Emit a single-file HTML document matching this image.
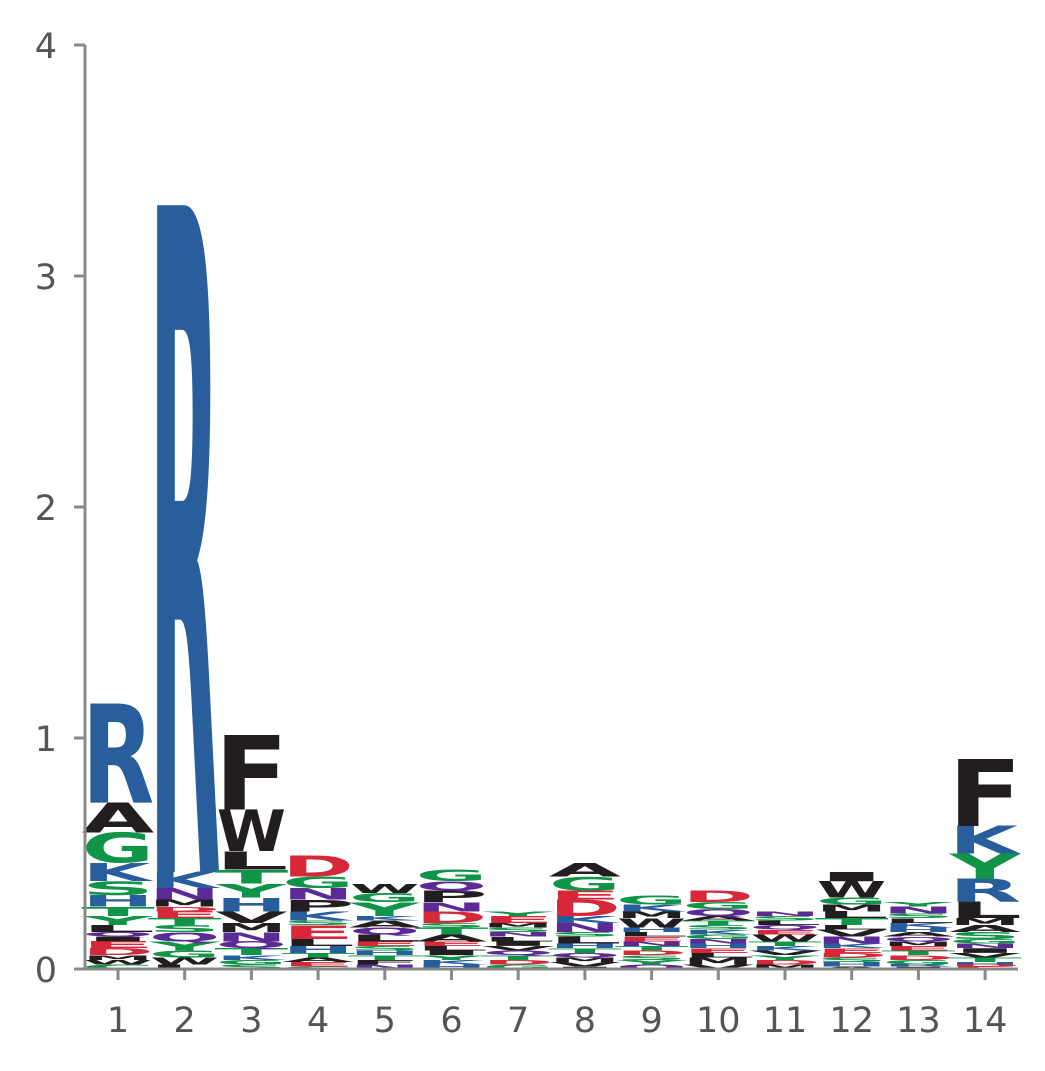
<!DOCTYPE html>
<html><head><meta charset="utf-8"><style>
html,body{margin:0;padding:0;background:#fff;}
svg{display:block;}
</style></head><body>
<svg id="chart" width="1045" height="1071" viewBox="0 0 1045 1071" xmlns="http://www.w3.org/2000/svg">
<g id="letters"></g>
<g id="axes"></g>
</svg>
<script>
const positions = [1,2,3,4,5,6,7,8,9,10,11,12,13,14];
const yTicks = [0,1,2,3,4];
// stacks bottom -> top: [letter, bits]
const stack1 = [["C",0.02],["W",0.02],["M",0.02],["D",0.03],["E",0.03],["I",0.02],["Q",0.02],["L",0.03],["Y",0.04],["T",0.04],["H",0.05],["S",0.06],["K",0.08],["G",0.13],["A",0.13],["R",0.43]];
const stack2 = [["L",0.02],["W",0.03],["G",0.03],["Y",0.04],["Q",0.04],["S",0.03],["T",0.03],["E",0.03],["D",0.02],["M",0.03],["N",0.05],["K",0.07],["R",2.89]];
const stack3 = [["S",0.02],["G",0.02],["K",0.02],["T",0.03],["Q",0.03],["N",0.04],["M",0.04],["V",0.05],["H",0.06],["Y",0.06],["T",0.06],["L",0.08],["W",0.18],["F",0.32]];
const stack4 = [["C",0.01],["E",0.02],["A",0.02],["T",0.02],["H",0.03],["L",0.03],["E",0.06],["S",0.02],["K",0.04],["P",0.05],["N",0.05],["G",0.05],["D",0.09]];
const stack5 = [["N",0.02],["F",0.02],["T",0.02],["H",0.02],["S",0.02],["E",0.02],["L",0.03],["Q",0.03],["A",0.03],["K",0.02],["Y",0.06],["G",0.04],["W",0.04]];
const stack6 = [["H",0.02],["K",0.02],["Y",0.02],["I",0.02],["L",0.02],["E",0.02],["A",0.03],["T",0.03],["S",0.02],["D",0.05],["N",0.04],["P",0.05],["Q",0.04],["G",0.05]];
const stack7 = [["G",0.02],["D",0.02],["T",0.02],["Q",0.02],["V",0.02],["I",0.02],["L",0.02],["N",0.02],["S",0.02],["M",0.02],["E",0.03],["Y",0.02]];
const stack8 = [["I",0.01],["V",0.02],["M",0.02],["Q",0.02],["T",0.02],["H",0.02],["L",0.03],["S",0.02],["N",0.04],["K",0.03],["D",0.07],["E",0.04],["G",0.06],["A",0.06]];
const stack9 = [["Q",0.02],["Y",0.02],["S",0.02],["D",0.02],["T",0.02],["N",0.02],["E",0.02],["L",0.02],["H",0.02],["W",0.04],["M",0.03],["K",0.03],["G",0.04]];
const stack10 = [["V",0.02],["M",0.03],["L",0.02],["E",0.02],["H",0.02],["N",0.02],["G",0.02],["K",0.02],["S",0.02],["T",0.02],["A",0.02],["Q",0.03],["G",0.03],["D",0.05]];
const stack11 = [["M",0.02],["D",0.02],["Y",0.02],["V",0.02],["K",0.02],["T",0.02],["W",0.03],["E",0.02],["Q",0.02],["L",0.02],["S",0.02],["N",0.02]];
const stack12 = [["A",0.01],["H",0.02],["S",0.02],["D",0.02],["E",0.02],["K",0.02],["N",0.03],["V",0.03],["L",0.02],["T",0.03],["L",0.03],["M",0.03],["G",0.03],["W",0.07],["I",0.04]];
const stack13 = [["I",0.01],["R",0.01],["G",0.02],["D",0.02],["T",0.02],["E",0.02],["M",0.02],["Q",0.02],["A",0.02],["H",0.02],["K",0.02],["L",0.02],["S",0.02],["N",0.03],["Y",0.02]];
const stack14 = [["E",0.01],["D",0.01],["H",0.01],["T",0.02],["V",0.02],["I",0.02],["N",0.02],["G",0.02],["S",0.03],["A",0.03],["M",0.03],["L",0.07],["R",0.10],["Y",0.11],["K",0.12],["F",0.29]];
const stacks = [stack1,stack2,stack3,stack4,stack5,stack6,stack7,stack8,stack9,stack10,stack11,stack12,stack13,stack14];

const NS = "http://www.w3.org/2000/svg";
const X0 = 118, DX = 66.7, COLW = 63;
const Y0 = 969, PXB = 231;
function xScale(p){ return X0 + (p-1)*DX; }
function yScale(v){ return Y0 - v*PXB; }
function colorOf(c){
  if ("RKH".includes(c)) return "#285e9c";
  if ("DE".includes(c)) return "#d62839";
  if ("NQ".includes(c)) return "#5b2a96";
  if ("GSTYC".includes(c)) return "#0f9448";
  return "#221e1f";
}
const lg = document.getElementById("letters");
positions.forEach((p,i)=>{
  let cum = 0;
  const cx = xScale(p);
  stacks[i].forEach(([ch,h])=>{
    const yb = yScale(cum), yt = yScale(cum+h);
    cum += h;
    const t = document.createElementNS(NS,"text");
    
    
    t.setAttribute("font-family","DejaVu Sans, Liberation Sans, sans-serif");
    t.setAttribute("font-weight","bold");
    t.setAttribute("font-size","100");
    t.setAttribute("fill",colorOf(ch));
    t.textContent = ch;
    lg.appendChild(t);
    const bb = t.getBBox();
    const gx = bb.x + 5, gw = Math.max(bb.width - 10, 1);
    const gH = 73;
    const sx = COLW / gw, sy = (yb - yt) / gH;
    t.setAttribute("transform", `translate(${cx - COLW/2},${yb}) scale(${sx},${sy}) translate(${-gx},0)`);
  });
});

const ax = document.getElementById("axes");
function line(x1,y1,x2,y2,name){
  const l = document.createElementNS(NS,"line");
  
  
  l.setAttribute("x1",x1);l.setAttribute("y1",y1);l.setAttribute("x2",x2);l.setAttribute("y2",y2);
  l.setAttribute("stroke","#888");l.setAttribute("stroke-width","3");
  ax.appendChild(l);
}
function label(x,y,txt,anchor,name){
  const t = document.createElementNS(NS,"text");
  
  
  t.setAttribute("x",x);t.setAttribute("y",y);
  t.setAttribute("text-anchor",anchor);
  t.setAttribute("font-family","DejaVu Sans, Liberation Sans, sans-serif");
  t.setAttribute("font-size","35");
  t.setAttribute("fill","#555");
  t.textContent = txt;
  ax.appendChild(t);
}
line(85,45,85,970,"y-axis-line");
line(84,969,1018,969,"x-axis-line");
yTicks.forEach(v=>{
  line(74,yScale(v),85,yScale(v),"y-tick");
  label(57,yScale(v)+13,String(v),"end","y-tick-label");
});
positions.forEach(p=>{
  line(xScale(p),969,xScale(p),980,"x-tick");
  label(xScale(p),1032,String(p),"middle","x-tick-label");
});
</script>
</body></html>
